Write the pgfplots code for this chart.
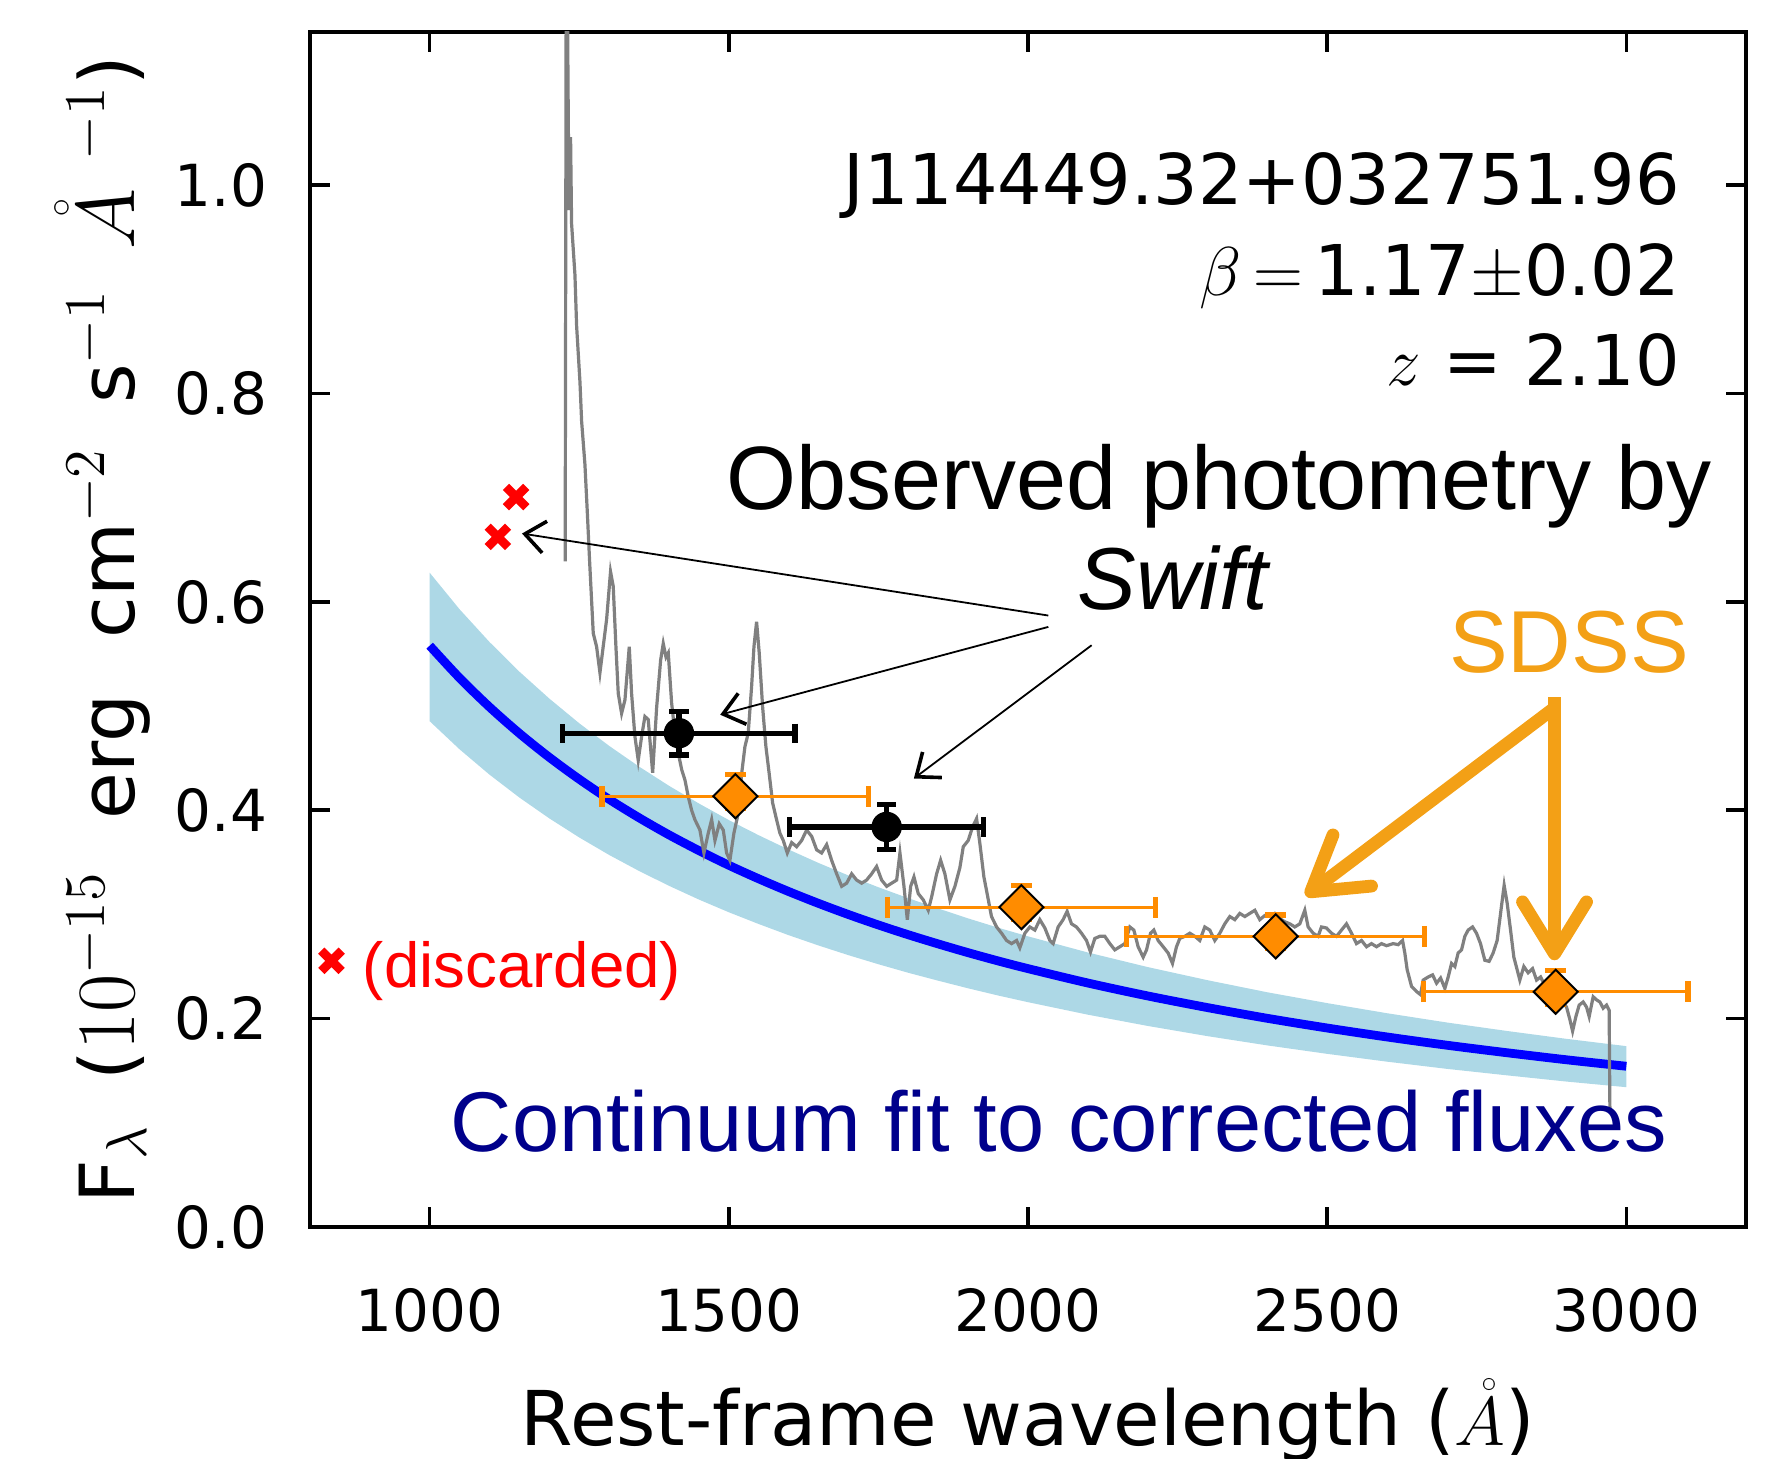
\documentclass[border=0pt]{standalone}
\usepackage[no-math]{fontspec}
\setmainfont{DejaVu Sans}
\newfontfamily\lib{Liberation Sans}
\usepackage{pgfplots}
\pgfplotsset{compat=1.18}
\usetikzlibrary{arrows.meta}
\definecolor{bandblue}{RGB}{173,216,230}
\definecolor{specgray}{RGB}{128,128,128}
\definecolor{sdssorange}{RGB}{255,140,0}
\definecolor{sdsstext}{RGB}{243,160,22}
\definecolor{contblue}{RGB}{0,0,139}
\newcommand\lblmath[1]{{\fontsize{21}{24}\selectfont$#1$}}
\begin{document}
\begin{tikzpicture}
\begin{axis}[
  scale only axis, width=359pt, height=298.75pt,
  xmin=800, xmax=3200, ymin=0, ymax=1.147,
  xtick={1000,1500,2000,2500,3000},
  ytick={0,0.2,0.4,0.6,0.8,1.0},
  tick align=inside, major tick length=5pt,
  every tick/.style={line width=0.9pt, black},
  axis line style={line width=0.9pt},
  /pgf/number format/assume math mode=true,
  tick label style={font=\fontsize{14.5}{17}\selectfont},
  xticklabel style={yshift=-11.8pt, /pgf/number format/1000 sep={}},
  yticklabel style={xshift=-7.2pt, /pgf/number format/.cd, fixed, fixed zerofill, precision=1},
  xlabel={Rest-frame wavelength ($\mathring{A}$)},
  xlabel style={font=\fontsize{18.9}{22}\selectfont, at={(axis description cs:0.5,0)}, anchor=base, yshift=-54.5pt},
  ylabel={F\lblmath{_\lambda}\hspace{11pt}(\lblmath{10^{-15}}\hspace{13pt}erg\hspace{14pt}cm\lblmath{^{-2}}\hspace{11pt}s\lblmath{^{-1}}\hspace{10pt}\lblmath{\mathring{A}^{\hspace{7pt}-1}})},
  ylabel style={font=\fontsize{19}{22}\selectfont, at={(axis description cs:-0.1223,0.5)}, anchor=base},
]
% uncertainty band of continuum fit
\addplot[fill=bandblue, draw=none] coordinates {
(1000,0.6280) (1050,0.5929) (1100,0.5615) (1150,0.5330) (1200,0.5072) (1250,0.4835)
(1300,0.4618) (1350,0.4419) (1400,0.4235) (1450,0.4065) (1500,0.3906) (1550,0.3760)
(1600,0.3623) (1650,0.3494) (1700,0.3374) (1750,0.3261) (1800,0.3156) (1850,0.3057)
(1900,0.2962) (1950,0.2873) (2000,0.2790) (2100,0.2635)
(2200,0.2495) (2300,0.2369) (2400,0.2253) (2500,0.2149) (2600,0.2052) (2700,0.1963)
(2800,0.1882) (2900,0.1806) (3000,0.1736)
(3000,0.1342) (2900,0.1396) (2800,0.1456) (2700,0.1518) (2600,0.1587) (2500,0.1662)
(2400,0.1743) (2300,0.1832) (2200,0.1930) (2100,0.2038) (2000,0.2158) (1950,0.2222)
(1900,0.2291) (1850,0.2364) (1800,0.2440) (1750,0.2522) (1700,0.2609) (1650,0.2702)
(1600,0.2801) (1550,0.2908) (1500,0.3021) (1450,0.3143) (1400,0.3275) (1350,0.3417)
(1300,0.3571) (1250,0.3739) (1200,0.3922) (1150,0.4122) (1100,0.4342) (1050,0.4585)
(1000,0.4855)
} -- cycle;
% continuum fit
\addplot[blue, line width=2.2pt, smooth] coordinates {
(1000,0.5580) (1050,0.5270) (1100,0.4991) (1150,0.4738) (1200,0.4508) (1250,0.4298)
(1300,0.4105) (1350,0.3928) (1400,0.3764) (1450,0.3613) (1500,0.3472) (1550,0.3342)
(1600,0.3220) (1650,0.3106) (1700,0.2999) (1750,0.2899) (1800,0.2805) (1850,0.2717)
(1900,0.2633) (1950,0.2554) (2000,0.2480) (2100,0.2342)
(2200,0.2218) (2300,0.2106) (2400,0.2003) (2500,0.1910) (2600,0.1824) (2700,0.1745)
(2800,0.1673) (2900,0.1605) (3000,0.1543)
};
% spectrum
\addplot[specgray, line width=0.8pt] coordinates {
(1226.5,0.639) (1228.5,1.30) (1230.6,1.15) (1232.8,0.976) (1235.5,1.046) (1237.2,0.963)
(1242.8,0.914) (1245.6,0.865) (1251.2,0.811) (1254.0,0.773) (1259.5,0.732) (1263.4,0.687)
(1267.5,0.637) (1273.4,0.570) (1279.0,0.557) (1284.6,0.532) (1290.0,0.557) (1295.7,0.583)
(1302.3,0.629) (1306.8,0.615) (1311.3,0.557) (1315.2,0.512) (1320.8,0.493) (1326.4,0.506)
(1333.6,0.557) (1337.5,0.512) (1343.0,0.471) (1348.6,0.448) (1354.3,0.471) (1359.8,0.490)
(1365.3,0.487) (1372.7,0.436) (1379.4,0.499) (1386.0,0.544) (1390.4,0.560) (1395.0,0.547)
(1398.8,0.551) (1404.4,0.503) (1409.9,0.474) (1415.5,0.455) (1421.2,0.439) (1426.7,0.429)
(1432.2,0.413) (1437.8,0.400) (1443.3,0.391) (1451.7,0.381) (1458.4,0.359) (1465.6,0.378)
(1471.3,0.391) (1476.8,0.371) (1484.0,0.387) (1490.7,0.381) (1496.3,0.359) (1501.8,0.352)
(1508.5,0.378) (1515.7,0.397) (1521.4,0.435) (1526.9,0.461) (1532.4,0.474) (1538.1,0.519)
(1542.0,0.557) (1546.4,0.581) (1550.8,0.551) (1556.5,0.499) (1562.0,0.461) (1567.5,0.435)
(1573.2,0.407) (1579.8,0.391) (1585.4,0.378) (1591.0,0.371) (1597.7,0.359) (1605.0,0.369)
(1613.3,0.365) (1621.7,0.371) (1630.0,0.381) (1638.4,0.375) (1646.8,0.362) (1655.1,0.359)
(1663.5,0.367) (1671.8,0.352) (1680.2,0.339) (1688.6,0.327) (1696.9,0.330) (1705.3,0.339)
(1713.6,0.333) (1722.0,0.330) (1730.3,0.333) (1738.7,0.339) (1747.0,0.346) (1755.4,0.333)
(1763.8,0.327) (1772.1,0.330) (1780.5,0.333) (1786.0,0.359) (1792.7,0.327) (1798.3,0.295)
(1803.9,0.327) (1809.4,0.336) (1816.6,0.320) (1825.0,0.314) (1833.3,0.304) (1839.0,0.317)
(1847.3,0.339) (1854.0,0.352) (1861.1,0.339) (1869.5,0.314) (1877.9,0.327) (1886.2,0.345)
(1891.8,0.365) (1900.1,0.371) (1907.4,0.384) (1914.1,0.392) (1919.6,0.368) (1926.3,0.336)
(1930.7,0.323) (1939.0,0.298) (1947.5,0.288) (1955.8,0.282) (1964.2,0.275) (1972.5,0.272)
(1980.9,0.275) (1986.4,0.268) (1994.8,0.282) (2003.1,0.288) (2011.5,0.285) (2019.8,0.295)
(2028.2,0.287) (2036.5,0.275) (2042.0,0.272) (2050.4,0.288) (2058.7,0.295) (2065.4,0.303)
(2072.7,0.291) (2081.0,0.288) (2089.4,0.282) (2097.8,0.275) (2104.5,0.264) (2111.7,0.277)
(2120.0,0.279) (2128.4,0.279) (2136.8,0.272) (2145.1,0.266) (2153.5,0.269) (2161.9,0.272)
(2170.2,0.288) (2176.9,0.285) (2184.1,0.269) (2192.5,0.259) (2198.1,0.266) (2204.8,0.282)
(2210.3,0.285) (2217.5,0.275) (2225.9,0.269) (2234.2,0.263) (2241.5,0.253) (2248.2,0.269)
(2253.7,0.277) (2262.1,0.279) (2270.4,0.282) (2278.8,0.279) (2287.1,0.275) (2295.5,0.288)
(2303.8,0.285) (2312.2,0.275) (2320.6,0.282) (2328.9,0.291) (2337.3,0.298) (2345.6,0.295)
(2354.0,0.301) (2362.4,0.298) (2370.7,0.301) (2379.1,0.304) (2387.4,0.295) (2395.8,0.299)
(2404.1,0.298) (2412.5,0.301) (2420.9,0.296) (2429.2,0.293) (2437.6,0.291) (2445.9,0.288)
(2454.3,0.291) (2462.6,0.304) (2468.2,0.288) (2476.6,0.282) (2484.9,0.279) (2490.5,0.288)
(2498.9,0.287) (2507.2,0.282) (2515.6,0.279) (2524.0,0.285) (2532.3,0.291) (2540.7,0.282)
(2549.0,0.272) (2557.4,0.275) (2565.8,0.269) (2574.1,0.272) (2582.5,0.269) (2590.8,0.272)
(2599.2,0.270) (2610.3,0.272) (2618.6,0.271) (2626.0,0.275) (2629.8,0.263) (2633.7,0.247)
(2641.0,0.231) (2649.4,0.226) (2656.0,0.223) (2660.5,0.237) (2668.9,0.240) (2676.2,0.242)
(2682.9,0.234) (2689.6,0.239) (2696.7,0.229) (2702.3,0.240) (2707.9,0.253) (2713.4,0.250)
(2718.9,0.263) (2724.6,0.266) (2730.1,0.279) (2735.6,0.285) (2743.0,0.288) (2749.6,0.282)
(2756.3,0.272) (2763.5,0.256) (2770.7,0.255) (2777.4,0.263) (2784.1,0.275) (2789.8,0.301)
(2795.8,0.328) (2800.8,0.311) (2806.5,0.285) (2812.0,0.259) (2817.5,0.247) (2822.0,0.237)
(2828.7,0.250) (2835.9,0.244) (2843.3,0.248) (2850.0,0.237) (2856.7,0.240) (2863.9,0.232)
(2872.2,0.227) (2880.6,0.224) (2891.8,0.218) (2900.1,0.211) (2905.7,0.199) (2910.2,0.188)
(2915.7,0.202) (2921.2,0.213) (2927.9,0.216) (2933.6,0.211) (2937.9,0.202) (2944.6,0.221)
(2950.3,0.218) (2955.8,0.216) (2961.3,0.210) (2967.0,0.213) (2971.3,0.208) (2972.5,0.116)
(2973.6,0.110)
};
% Swift photometry
\addplot[only marks, mark=*, mark size=3.6pt, black,
  error bars/.cd, x dir=both, x explicit, y dir=both, y explicit,
  error bar style={line width=1.3pt, black},
  error mark options={rotate=90, line width=1.3pt, mark size=2.4pt, black}]
coordinates {
(1416.6,0.474) +- (194,0.021)
(1763.8,0.384) +- (162,0.0216)
};
% SDSS photometry
\addplot[only marks, mark=square*, mark size=3.9pt, mark options={rotate=45, fill=sdssorange, draw=black, line width=0.5pt},
  error bars/.cd, x dir=both, x explicit, y dir=both, y explicit,
  error bar style={line width=0.75pt, sdssorange},
  error mark options={rotate=90, line width=1.3pt, mark size=2.6pt, sdssorange}]
coordinates {
(1511.0,0.4135) += (223,0.0205) -= (223,0.012)
(1989.0,0.3070) += (224,0.0205) -= (224,0.012)
(2414.0,0.2790) += (249,0.0205) -= (249,0.012)
(2882.0,0.2258) += (221,0.0205) -= (221,0.012)
};
% discarded points
\addplot[only marks, mark=x, mark size=3.6pt, red, line width=2.2pt] coordinates {
(1144.5,0.7006) (1114.0,0.6624) (836.0,0.2555)
};
% Swift arrows
\draw[black, line width=0.45pt, -{Straight Barb[length=5pt,width=8pt,line width=0.9pt]}] (axis cs:2034,0.5869) -- (axis cs:1154.3,0.6656);
\draw[black, line width=0.45pt, -{Straight Barb[length=5pt,width=8pt,line width=0.9pt]}] (axis cs:2034,0.5760) -- (axis cs:1485.6,0.4917);
\draw[black, line width=0.45pt, -{Straight Barb[length=5pt,width=8pt,line width=0.9pt]}] (axis cs:2106.4,0.5584) -- (axis cs:1809.3,0.4305);
% SDSS arrows
\draw[sdsstext, line width=3.2pt, -{Straight Barb[length=13pt,width=16pt,round]}] (axis cs:2880,0.5086) -- (axis cs:2880,0.256);
\draw[sdsstext, line width=3.2pt, line cap=round, -{Straight Barb[length=13pt,width=16pt,round]}] (axis cs:2877,0.497) -- (axis cs:2464,0.318);
% text
\node[anchor=base east, inner sep=0pt, font=\fontsize{17.5}{20}\selectfont] at (axis cs:3091,0.981) {J114449.32+032751.96};
\node[anchor=base east, inner sep=0pt, font=\fontsize{17.5}{20}\selectfont] at (axis cs:3091,0.894) {$\beta\,{=}\,$1.17$\pm$0.02};
\node[anchor=base east, inner sep=0pt, font=\fontsize{17.5}{20}\selectfont] at (axis cs:3091,0.808) {$z$ = 2.10};
\node[anchor=base west, inner sep=0pt, font=\lib\fontsize{22.5}{26}\selectfont] at (axis cs:1495,0.6887) {Observed photometry by};
\node[anchor=base, inner sep=0pt, font=\lib\itshape\fontsize{22}{26}\selectfont] at (axis cs:2242,0.5924) {Swift};
\node[anchor=base, inner sep=0pt, text=sdsstext, font=\lib\fontsize{22}{26}\selectfont] at (axis cs:2904,0.5322) {SDSS};
\node[anchor=base west, inner sep=0pt, text=contblue, font=\lib\fontsize{21.2}{25}\selectfont] at (axis cs:1034,0.0729) {Continuum fit to corrected fluxes};
\node[anchor=base west, inner sep=0pt, text=red, font=\lib\fontsize{15.9}{19}\selectfont] at (axis cs:887,0.2303) {(discarded)};
\end{axis}
\pgfresetboundingbox
\path[use as bounding box] (-77.5pt,-57.75pt) rectangle (369.25pt,306.75pt);
\end{tikzpicture}
\end{document}
